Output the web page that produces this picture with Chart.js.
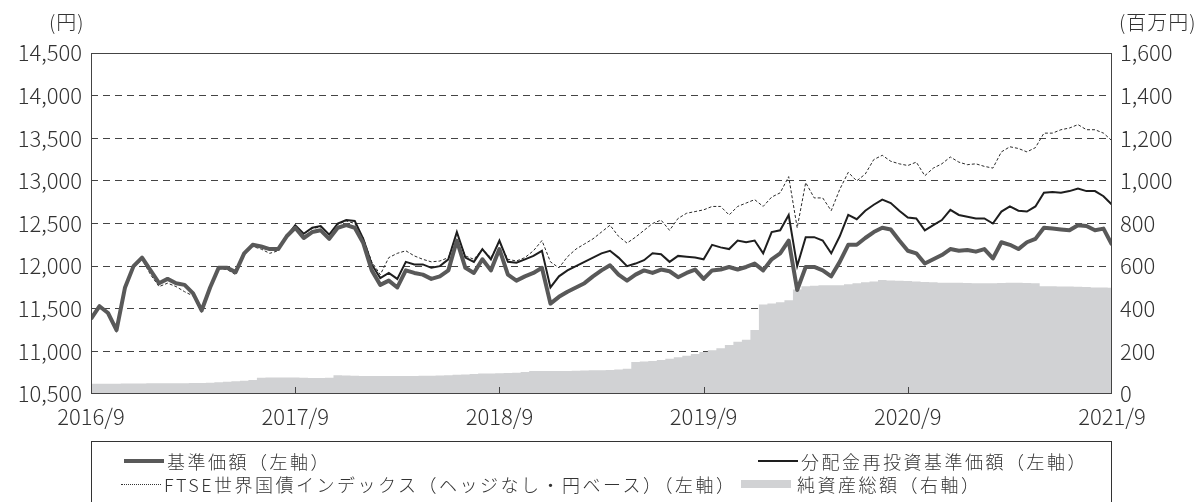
<!DOCTYPE html>
<html lang="ja">
<head>
<meta charset="utf-8">
<script src="https://cdn.jsdelivr.net/npm/chart.js@4.4.1/dist/chart.umd.min.js"></script>
<style>
  html, body { margin: 0; padding: 0; background: #fff; overflow: hidden; }
  #wrap { position: relative; width: 1198px; height: 502px; font-family: "Noto Sans CJK JP", "Noto Sans", sans-serif; font-weight: 300; color: #333; }
  canvas { position: absolute; left: 0; top: 0; }
  .unit { position: absolute; font-size: 20px; line-height: 24px; letter-spacing: 1px; color: #333; white-space: nowrap; }
  #legend { position: absolute; left: 91px; top: 441px; width: 1021px; height: 90px; border: 1.5px solid #333; box-sizing: border-box; }
  .item { position: absolute; display: flex; align-items: center; font-size: 18px; line-height: 22px; letter-spacing: 2.5px; color: #333; white-space: nowrap; }
  .sw { display: inline-block; width: 40px; margin-right: 3px; }
</style>
</head>
<body>
<div id="wrap">
  <canvas id="c" width="1198" height="502"></canvas>
  <div class="unit" style="left:49px; top:10px;">(円)</div>
  <div class="unit" style="left:1119px; top:10px;">(百万円)</div>
  <div id="legend">
    <div class="item" style="left:32px; top:8px;"><span class="sw" style="height:4px;background:#595959;"></span><span>基準価額（左軸）</span></div>
    <div class="item" style="left:666px; top:8px;"><span class="sw" style="height:2px;background:#1e1e1e;"></span><span>分配金再投資基準価額（左軸）</span></div>
    <div class="item" style="left:29px; top:31px;"><span class="sw" style="height:0;border-top:1px dotted #333;"></span><span>FTSE世界国債インデックス（ヘッジなし・円ベース）（左軸）</span></div>
    <div class="item" style="left:649px; top:31px;"><span class="sw" style="height:8px;background:#d1d2d4;width:50px;margin-right:6px;"></span><span>純資産総額（右軸）</span></div>
  </div>
</div>
<script>
// months since 2016/9
const months = [0,0.5,1,1.5,2,2.5,3,3.5,4,4.5,5,5.5,6,6.5,7,7.5,8,8.5,9,9.5,10,10.5,11,11.5,
  12,12.5,13,13.5,14,14.5,15,15.5,16,16.5,17,17.5,18,18.5,19,19.5,20,20.5,21,21.5,22,22.5,23,23.5,
  24,24.5,25,25.5,26,26.5,27,27.5,28,28.5,29,29.5,30,30.5,31,31.5,32,32.5,33,33.5,34,34.5,35,35.5,
  36,36.5,37,37.5,38,38.5,39,39.5,40,40.5,41,41.5,42,42.5,43,43.5,44,44.5,45,45.5,46,46.5,47,47.5,
  48,48.5,49,49.5,50,50.5,51,51.5,52,52.5,53,53.5,54,54.5,55,55.5,56,56.5,57,57.5,58,58.5,59,59.5,60];

const tickMonths = [0, 12, 24, 36, 48, 60];
const tickLabels = ['2016/9', '2017/9', '2018/9', '2019/9', '2020/9', '2021/9'];

// 基準価額 (円)
const navValues = [11380,11530,11450,11250,11750,12000,12100,11950,11800,11850,11800,11780,11680,11480,11750,11980,11980,11930,12150,12250,12230,12200,12200,12350,
  12450,12330,12400,12420,12320,12450,12480,12450,12270,11950,11780,11830,11750,11950,11920,11900,11850,11880,11950,12300,11980,11920,12080,11950,
  12200,11900,11830,11880,11920,11980,11560,11640,11700,11750,11800,11880,11950,12010,11900,11830,11900,11950,11920,11960,11940,11870,11920,11960,
  11850,11950,11960,11990,11960,11990,12030,11950,12080,12150,12300,11720,11990,11990,11950,11880,12050,12250,12250,12330,12400,12450,12430,12300,
  12180,12150,12030,12080,12130,12200,12180,12190,12170,12200,12090,12280,12250,12200,12280,12320,12450,12440,12430,12420,12480,12470,12420,12440,12250];

// 分配金再投資基準価額 (円)
const reinvestValues = [11380,11530,11450,11250,11750,12000,12100,11950,11800,11850,11800,11780,11680,11480,11750,11980,11980,11930,12150,12250,12230,12200,12200,12350,
  12480,12380,12450,12470,12370,12500,12540,12530,12320,12020,11860,11920,11850,12050,12020,12020,11980,12000,12080,12400,12100,12050,12200,12080,
  12300,12050,12040,12080,12120,12180,11750,11880,11950,12000,12050,12100,12150,12180,12100,12000,12030,12070,12150,12140,12050,12120,12110,12100,
  12080,12250,12220,12200,12300,12280,12300,12150,12400,12420,12600,12000,12340,12340,12300,12150,12350,12600,12550,12650,12720,12780,12740,12650,
  12570,12560,12420,12480,12540,12660,12600,12580,12560,12560,12500,12640,12700,12650,12640,12700,12860,12870,12860,12880,12910,12880,12880,12820,12720];

// FTSE世界国債インデックス (円換算)
const ftseValues = [11400,11520,11430,11300,11720,11980,12080,11900,11760,11800,11760,11700,11650,11500,11740,11970,11960,11900,12130,12230,12200,12150,12180,12340,
  12480,12380,12440,12460,12360,12490,12530,12500,12330,12050,11900,12100,12150,12180,12120,12080,12050,12060,12100,12380,12120,12080,12200,12100,
  12280,12080,12060,12100,12180,12300,12050,11980,12110,12200,12260,12320,12400,12480,12350,12270,12340,12420,12500,12540,12420,12560,12620,12640,
  12660,12700,12700,12600,12700,12740,12780,12700,12810,12860,13050,12450,12980,12800,12800,12650,12900,13100,13000,13080,13250,13300,13230,13200,
  13180,13220,13060,13150,13200,13280,13220,13190,13200,13170,13150,13340,13400,13380,13340,13390,13560,13560,13600,13620,13660,13600,13600,13560,13470];

// 純資産総額 (百万円)
const netAssets = [48,48,48,48,49,49,49,50,50,50,51,51,52,52,53,55,57,60,62,66,76,77,77,77,
  77,76,75,75,76,88,87,86,85,84,84,84,84,85,85,86,86,87,88,90,92,94,96,96,
  97,98,100,103,108,108,108,108,108,109,110,111,112,113,115,118,150,152,155,160,165,172,180,188,
  197,205,215,230,245,255,300,420,425,430,440,490,505,508,510,510,510,515,520,524,528,535,532,531,
  530,528,526,524,522,522,522,521,520,520,520,521,522,522,521,520,505,505,504,504,503,502,500,500,498];

const pts = (vals) => months.map((m, i) => ({ x: m, y: vals[i] }));

const framePlugin = {
  id: 'frame',
  afterDatasetsDraw(chart) {
    const { ctx, chartArea: a, scales } = chart;
    ctx.save();
    ctx.strokeStyle = '#444';
    ctx.lineWidth = 1;
    ctx.setLineDash([]);
    ctx.strokeRect(a.left + 0.5, a.top + 0.5, a.right - a.left - 1, a.bottom - a.top - 1);
    tickMonths.slice(1, -1).forEach(v => {
      const x = Math.round(scales.x.getPixelForValue(v)) + 0.5;
      ctx.beginPath();
      ctx.moveTo(x, a.bottom);
      ctx.lineTo(x, a.bottom - 7);
      ctx.stroke();
    });
    ctx.restore();
  }
};

const tickFont = { family: '"Noto Sans CJK JP", "Noto Sans", sans-serif', size: 22, weight: '300' };

new Chart(document.getElementById('c'), {
  type: 'line',
  data: {
    datasets: [
      { label: '基準価額（左軸）', data: pts(navValues), yAxisID: 'y', borderColor: '#595959', borderWidth: 4, pointRadius: 0, fill: false, order: 0, borderJoinStyle: 'round' },
      { label: '分配金再投資基準価額（左軸）', data: pts(reinvestValues), yAxisID: 'y', borderColor: '#1e1e1e', borderWidth: 2, pointRadius: 0, fill: false, order: 1 },
      { label: 'FTSE世界国債インデックス（ヘッジなし・円ベース）（左軸）', data: pts(ftseValues), yAxisID: 'y', borderColor: '#2a2a2a', borderWidth: 1, borderDash: [3, 2], pointRadius: 0, fill: false, order: 2 },
      { label: '純資産総額（右軸）', data: pts(netAssets), yAxisID: 'y1', borderWidth: 0, borderColor: 'rgba(0,0,0,0)', backgroundColor: '#d1d2d4', pointRadius: 0, fill: 'origin', stepped: 'middle', order: 3 }
    ]
  },
  options: {
    responsive: false,
    animation: false,
    events: [],
    layout: { padding: { top: 53, left: 0, right: 0, bottom: 0 } },
    plugins: { legend: { display: false }, tooltip: { enabled: false } },
    scales: {
      x: {
        type: 'linear', min: 0, max: 60,
        grid: { display: false, drawTicks: false },
        border: { display: false },
        afterBuildTicks: s => { s.ticks = tickMonths.map(v => ({ value: v })); },
        afterFit: s => { s.height = 108; },
        ticks: {
          autoSkip: false, maxRotation: 0, padding: 9, color: '#333', font: tickFont,
          callback: v => tickLabels[tickMonths.indexOf(v)]
        }
      },
      y: {
        position: 'left', min: 10500, max: 14500,
        afterFit: s => { s.width = 91; },
        grid: {
          drawTicks: false, lineWidth: 1,
          color: c => (c.tick && (c.tick.value === 10500 || c.tick.value === 14500)) ? 'rgba(0,0,0,0)' : '#444'
        },
        border: { display: false, dash: [7, 5] },
        ticks: { stepSize: 500, padding: 9, color: '#333', font: tickFont, callback: v => v.toLocaleString('en-US') }
      },
      y1: {
        position: 'right', min: 0, max: 1600,
        afterFit: s => { s.width = 86; },
        grid: { display: false, drawTicks: false },
        border: { display: false },
        ticks: { stepSize: 200, padding: 8, color: '#333', font: tickFont, callback: v => v.toLocaleString('en-US') }
      }
    }
  },
  plugins: [framePlugin]
});
</script>
</body>
</html>
